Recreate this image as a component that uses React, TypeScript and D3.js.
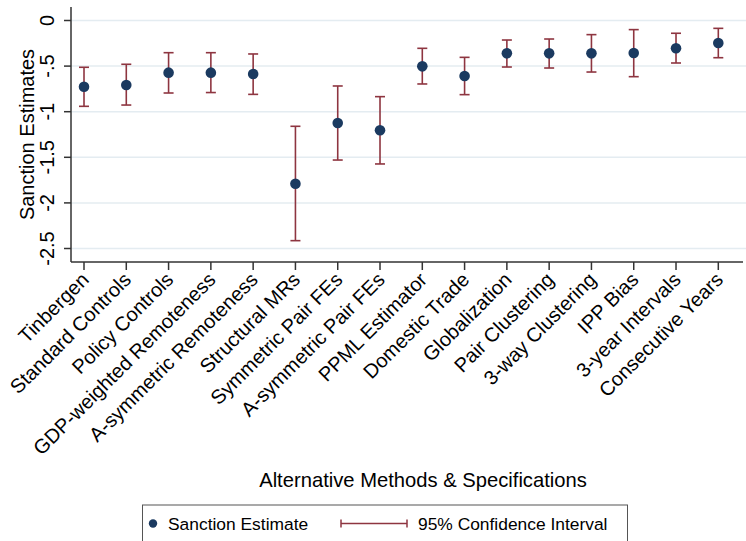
import React from "react";
import * as d3 from "d3";

// Specifications compared, in plotting order
const methods = [
  "Tinbergen",
  "Standard Controls",
  "Policy Controls",
  "GDP-weighted Remoteness",
  "A-symmetric Remoteness",
  "Structural MRs",
  "Symmetric Pair FEs",
  "A-symmetric Pair FEs",
  "PPML Estimator",
  "Domestic Trade",
  "Globalization",
  "Pair Clustering",
  "3-way Clustering",
  "IPP Bias",
  "3-year Intervals",
  "Consecutive Years",
];

// Point estimates of the sanction effect
const estimates = [
  -0.726, -0.707, -0.572, -0.572, -0.587, -1.79, -1.124, -1.204,
  -0.503, -0.609, -0.36, -0.36, -0.36, -0.356, -0.305, -0.247,
];

// 95% confidence bounds
const ciUpper = [
  -0.513, -0.48, -0.353, -0.353, -0.367, -1.16, -0.718, -0.835,
  -0.305, -0.404, -0.214, -0.203, -0.155, -0.1, -0.14, -0.086,
];
const ciLower = [
  -0.941, -0.927, -0.795, -0.79, -0.81, -2.414, -1.53, -1.573,
  -0.696, -0.813, -0.51, -0.521, -0.565, -0.616, -0.466, -0.408,
];

const yTicks = [0, -0.5, -1, -1.5, -2, -2.5];
const yTickLabels = ["0", "-.5", "-1", "-1.5", "-2", "-2.5"];

const W = 746;
const H = 541;
const FONT = "'Liberation Sans', Arial, Helvetica, sans-serif";
const NAVY = "#1b3a60";
const MAROON = "#8e3540";
const GRID = "#e4ecf1";
const AXIS = "#333333";

export default function App() {
  const left = 71;
  const right = 743;
  const top = 7;
  const bottom = 262;

  const x = d3.scaleLinear().domain([0.6925, 16.584]).range([left, right]);
  const y = d3.scaleLinear().domain([0.148, -2.648]).range([top, bottom]);

  const idx = d3.range(methods.length);
  const cap = 5;

  return (
    <svg
      width={W}
      height={H}
      style={{ position: "absolute", left: 0, top: 0, background: "#fff" }}
      fontFamily={FONT}
    >
      {/* gridlines */}
      {yTicks.map((t) => (
        <line
          key={"g" + t}
          x1={left}
          x2={W}
          y1={y(t)}
          y2={y(t)}
          stroke={GRID}
          strokeWidth={1.5}
        />
      ))}

      {/* confidence intervals */}
      {idx.map((i) => (
        <g key={"ci" + i} stroke={MAROON} strokeWidth={1.6}>
          <line x1={x(i + 1)} x2={x(i + 1)} y1={y(ciUpper[i])} y2={y(ciLower[i])} />
          <line x1={x(i + 1) - cap} x2={x(i + 1) + cap} y1={y(ciUpper[i])} y2={y(ciUpper[i])} />
          <line x1={x(i + 1) - cap} x2={x(i + 1) + cap} y1={y(ciLower[i])} y2={y(ciLower[i])} />
        </g>
      ))}

      {/* point estimates */}
      {idx.map((i) => (
        <circle key={"p" + i} cx={x(i + 1)} cy={y(estimates[i])} r={5.3} fill={NAVY} />
      ))}

      {/* y axis */}
      <line x1={left} x2={left} y1={top} y2={bottom} stroke={AXIS} strokeWidth={1.5} />
      {yTicks.map((t, k) => (
        <g key={"yt" + t}>
          <line x1={left - 7} x2={left} y1={y(t)} y2={y(t)} stroke={AXIS} strokeWidth={1.5} />
          <text
            transform={`translate(${left - 17.5},${y(t)}) rotate(-90)`}
            textAnchor="middle"
            fontSize={20}
            fill="#000"
          >
            {yTickLabels[k]}
          </text>
        </g>
      ))}
      <text
        transform={`translate(33.5,${(top + bottom) / 2}) rotate(-90)`}
        textAnchor="middle"
        fontSize={20}
        fill="#000"
      >
        Sanction Estimates
      </text>

      {/* x axis */}
      <line x1={left} x2={right} y1={bottom} y2={bottom} stroke={AXIS} strokeWidth={1.5} />
      {idx.map((i) => (
        <g key={"xt" + i}>
          <line x1={x(i + 1)} x2={x(i + 1)} y1={bottom} y2={bottom + 8} stroke={AXIS} strokeWidth={1.5} />
          <text
            transform={`translate(${x(i + 1) + 6},${bottom + 19}) rotate(-45)`}
            textAnchor="end"
            fontSize={20}
            fill="#000"
          >
            {methods[i]}
          </text>
        </g>
      ))}
      <text x={423} y={487} textAnchor="middle" fontSize={20.2} fill="#000">
        Alternative Methods &amp; Specifications
      </text>

      {/* legend */}
      <rect x={142.5} y={505} width={485} height={50} fill="none" stroke="#555" strokeWidth={1} />
      <circle cx={153} cy={523.5} r={4.2} fill={NAVY} />
      <text x={168} y={529.5} fontSize={17.4} fill="#000">
        Sanction Estimate
      </text>
      <g stroke={MAROON} strokeWidth={1.5}>
        <line x1={341} x2={407} y1={523.5} y2={523.5} />
        <line x1={341} x2={341} y1={519.5} y2={527.5} />
        <line x1={407} x2={407} y1={519.5} y2={527.5} />
      </g>
      <text x={418} y={529.5} fontSize={17.4} fill="#000">
        95% Confidence Interval
      </text>
    </svg>
  );
}
